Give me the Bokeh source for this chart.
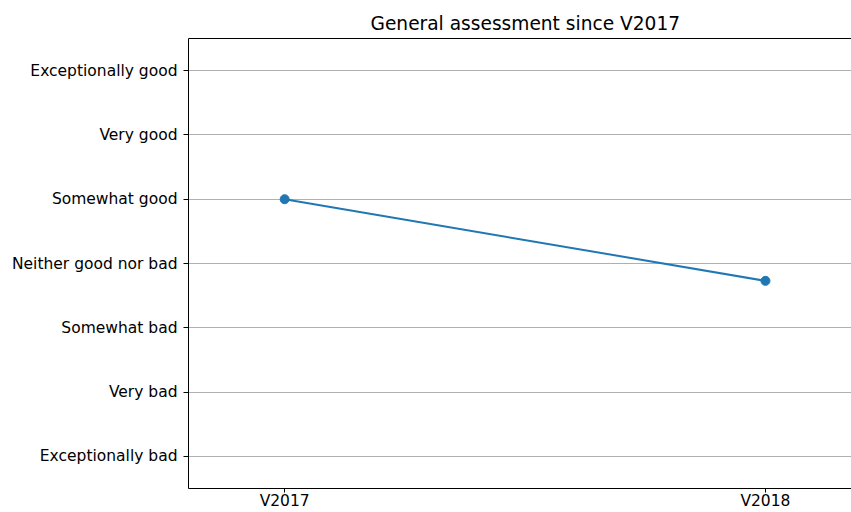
from bokeh.plotting import figure
from bokeh.models import FixedTicker, LinearAxis, Range1d
from bokeh.embed import file_html
from bokeh.resources import INLINE

# Data
years = ["V2017", "V2018"]
scores = [1.0, -0.27]
level_values = [-3, -2, -1, 0, 1, 2, 3]
level_labels = ["Exceptionally bad", "Very bad", "Somewhat bad", "Neither good nor bad",
                "Somewhat good", "Very good", "Exceptionally good"]
title_text = "General assessment since V2017"

xs = list(range(len(years)))

p = figure(width=851, height=512, output_backend="svg", toolbar_location=None,
           x_range=Range1d(-0.2, 1.179), y_range=Range1d(-3.5, 3.5),
           title=title_text, min_border_left=188, min_border_right=0,
           min_border_top=38, min_border_bottom=20)
p.title.align = "left"
p.title.offset = 182
p.title.text_font = "DejaVu Sans"
p.title.text_font_size = "18.6px"
p.title.text_font_style = "normal"
p.title.text_color = "black"

p.outline_line_color = None
p.background_fill_color = "white"
p.border_fill_color = "white"

# Axes
p.xaxis.ticker = FixedTicker(ticks=xs)
p.xaxis.major_label_overrides = {i: y for i, y in zip(xs, years)}
p.yaxis.ticker = FixedTicker(ticks=level_values)
p.yaxis.major_label_overrides = {v: l for v, l in zip(level_values, level_labels)}
for ax in (p.xaxis[0], p.yaxis[0]):
    ax.axis_line_color = "black"
    ax.axis_line_width = 1
    ax.major_tick_line_color = "black"
    ax.major_tick_out = 5
    ax.major_tick_in = 0
    ax.minor_tick_line_color = None
    ax.major_label_text_font = "DejaVu Sans"
    ax.major_label_text_font_size = "15.5px"
    ax.major_label_text_color = "black"
p.yaxis.major_label_standoff = 6
p.xaxis.major_tick_out = 4
p.xaxis.major_label_standoff = -1

top = LinearAxis(ticker=FixedTicker(ticks=[]), major_label_text_font_size="0px",
                 major_tick_out=0, major_tick_in=0, minor_tick_out=0, minor_tick_in=0,
                 axis_line_color="black", axis_line_width=1)
p.add_layout(top, "above")

p.xgrid.grid_line_color = None
p.ygrid.grid_line_color = "#b0b0b0"
p.ygrid.grid_line_width = 1

p.line(xs, scores, line_color="#1f77b4", line_width=2)
p.scatter(xs, scores, size=9, fill_color="#1f77b4", line_color="#1f77b4")

open("out.html", "w").write(file_html(p, INLINE))
